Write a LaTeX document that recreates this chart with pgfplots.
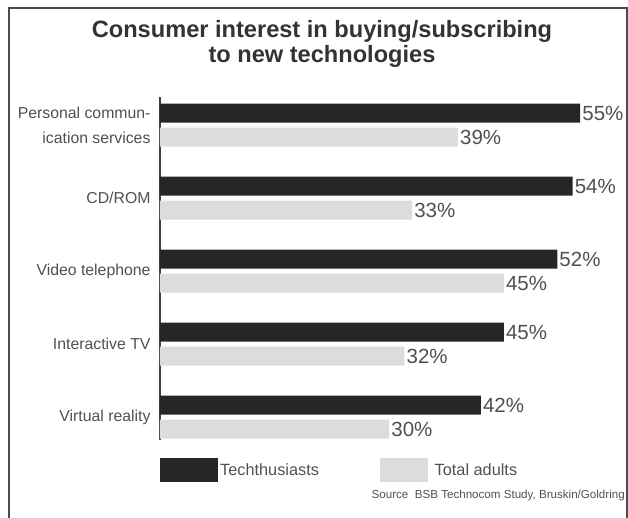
\documentclass[border=0pt]{standalone}
\usepackage{pgfplots}
\pgfplotsset{compat=1.18}
\usepackage{fontspec}
\setmainfont{Liberation Sans}
\definecolor{darkbar}{HTML}{262626}
\definecolor{lightbar}{HTML}{DCDCDC}
\definecolor{txt}{HTML}{505050}
\definecolor{ttl}{HTML}{333333}
\begin{document}
\begin{tikzpicture}
\begin{axis}[name=ax, xbar, scale only axis,
  width=458.4pt, height=342.7pt,
  xmin=0, xmax=60, ymin=-0.315, ymax=4.38,
  axis x line=none, axis y line*=left,
  axis line style={-, color=black!75, line width=1.5pt},
  ytick={0,1,2,3,4},
  yticklabels={Virtual reality, Interactive TV, Video telephone, CD/ROM, {Personal commun-\\ication services}},
  major tick length=0pt,
  yticklabel style={align=right, font=\fontsize{15.8}{25}\selectfont, text=txt, xshift=-6pt},
  bar width=19pt,
  point meta=x,
  /pgf/number format/assume math mode=true,
  nodes near coords={\pgfmathprintnumber{\pgfplotspointmeta}\%},
  every node near coord/.append style={anchor=west, font=\fontsize{20.5}{20}\selectfont, text=txt, inner sep=2pt},
  clip=false,
  legend columns=2,
  legend cell align=left,
  legend style={draw=none, fill=none, at={(0,0)}, anchor=north west, yshift=-16pt, xshift=-3pt,
    font=\fontsize{16.3}{16}\selectfont, text=txt, nodes={inner sep=2pt}},
]
\addplot[fill=darkbar, draw=none, bar shift=12pt,
  legend image code/.code={\fill[darkbar] (0pt,-12pt) rectangle (58pt,12pt);}]
  coordinates {(42,0) (45,1) (52,2) (54,3) (55,4)};
\addlegendentry{\makebox[158pt][l]{Techthusiasts}}
\addplot[fill=lightbar, draw=none, bar shift=-12pt,
  legend image code/.code={\fill[lightbar] (0pt,-12pt) rectangle (48pt,12pt);}]
  coordinates {(30,0) (32,1) (45,2) (33,3) (39,4)};
\addlegendentry{\makebox[100pt][l]{\ Total adults}}
\end{axis}
\path[use as bounding box] ([xshift=-160pt,yshift=440pt]ax.south west) rectangle ([xshift=468pt,yshift=-77pt]ax.south west);
\draw[black!70, line width=1.2pt] ([xshift=-151pt,yshift=-90pt]ax.south west) -- ([xshift=-151pt,yshift=432pt]ax.south west) -- ([xshift=467pt,yshift=432pt]ax.south west) -- ([xshift=467pt,yshift=-90pt]ax.south west);
\node[align=center, inner sep=0pt, font=\fontsize{23.6}{25}\selectfont\bfseries, text=ttl] at ([xshift=162pt,yshift=396pt]ax.south west) {Consumer interest in buying/subscribing\\to new technologies};
\node[anchor=base east, inner sep=0pt, font=\fontsize{11.6}{12}\selectfont, text=txt] at ([xshift=465pt,yshift=-58pt]ax.south west) {Source\ \ BSB Technocom Study, Bruskin/Goldring};
\end{tikzpicture}
\end{document}
